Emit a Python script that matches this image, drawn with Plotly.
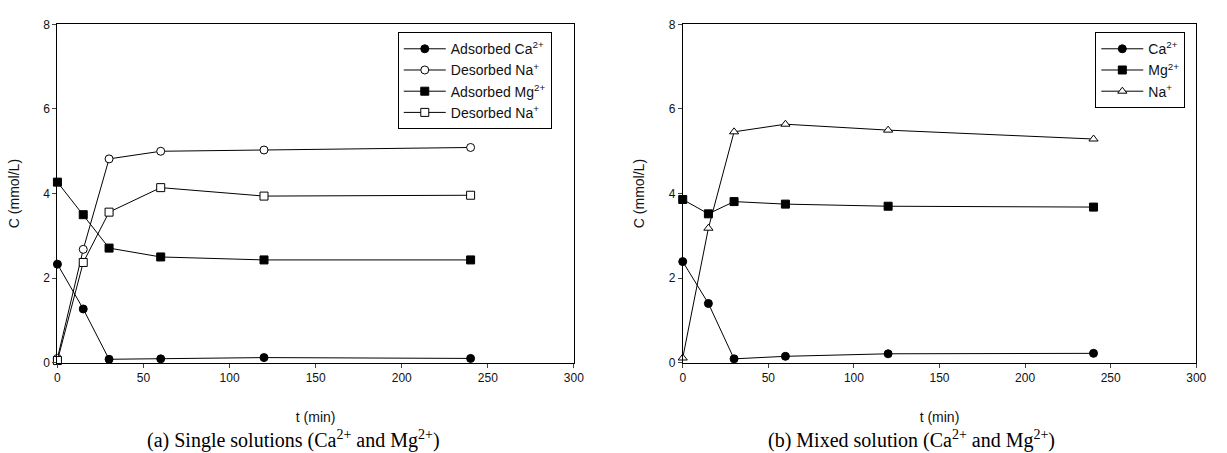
import plotly.graph_objects as go

t = [0, 15, 30, 60, 120, 240]

# (a) single solutions
a_ca_ads = [2.33, 1.27, 0.08, 0.09, 0.12, 0.10]
a_na_des_ca = [0.10, 2.68, 4.82, 5.00, 5.03, 5.09]
a_mg_ads = [4.27, 3.50, 2.71, 2.50, 2.43, 2.43]
a_na_des_mg = [0.05, 2.37, 3.56, 4.14, 3.94, 3.96]

# (b) mixed solution
b_ca = [2.39, 1.40, 0.09, 0.15, 0.21, 0.22]
b_mg = [3.86, 3.52, 3.81, 3.75, 3.70, 3.68]
b_na = [0.11, 3.18, 5.46, 5.64, 5.50, 5.29]

x_ticks = [0, 50, 100, 150, 200, 250, 300]
y_ticks = [0, 2, 4, 6, 8]

fig = go.Figure()

def add(x, y, name, symbol, filled, xa, ya, legend):
    fig.add_trace(go.Scatter(
        x=x, y=y, name=name, mode="lines+markers",
        line=dict(color="black", width=1),
        marker=dict(symbol=symbol, size=8, color="black" if filled else "white",
                    line=dict(color="black", width=1)),
        xaxis=xa, yaxis=ya, legend=legend, cliponaxis=False))

add(t, a_ca_ads, "Adsorbed Ca<sup>2+</sup>", "circle", True, "x", "y", "legend")
add(t, a_na_des_ca, "Desorbed Na<sup>+</sup>", "circle", False, "x", "y", "legend")
add(t, a_mg_ads, "Adsorbed Mg<sup>2+</sup>", "square", True, "x", "y", "legend")
add(t, a_na_des_mg, "Desorbed Na<sup>+</sup>", "square", False, "x", "y", "legend")

add(t, b_ca, "Ca<sup>2+</sup>", "circle", True, "x2", "y2", "legend2")
add(t, b_mg, "Mg<sup>2+</sup>", "square", True, "x2", "y2", "legend2")
add(t, b_na, "Na<sup>+</sup>", "triangle-up", False, "x2", "y2", "legend2")

axis_font = dict(family="Arial, Liberation Sans", size=12, color="#111")
title_font = dict(family="Arial, Liberation Sans", size=14, color="#111")
common_x = dict(range=[0, 300], tickvals=x_ticks, ticks="outside", ticklen=4,
                showline=True, linecolor="black", linewidth=1, mirror=True,
                showgrid=False, zeroline=False, tickfont=axis_font,
                title=dict(text="t (min)", font=title_font, standoff=28))
common_y = dict(range=[0, 8], tickvals=y_ticks, ticks="outside", ticklen=4,
                showline=True, linecolor="black", linewidth=1, mirror=True,
                showgrid=False, zeroline=False, tickfont=axis_font,
                title=dict(text="C (mmol/L)", font=title_font, standoff=20))

ydom = [(453 - 367) / 453, (453 - 18) / 453]
leg_font = dict(family="Arial, Liberation Sans", size=14, color="#111")
fig.update_layout(
    width=1227, height=453,
    margin=dict(l=0, r=0, t=0, b=0),
    paper_bgcolor="white", plot_bgcolor="white",
    xaxis=dict(domain=[55 / 1227, 577 / 1227], anchor="y", **common_x),
    yaxis=dict(domain=ydom, anchor="x", **common_y),
    xaxis2=dict(domain=[687 / 1227, 1206 / 1227], anchor="y2", **common_x),
    yaxis2=dict(domain=ydom, anchor="x2", **common_y),
    legend=dict(x=399 / 1227, y=1 - 26 / 453, xanchor="left", yanchor="top",
                bordercolor="black", borderwidth=1, bgcolor="white",
                font=leg_font, tracegroupgap=0, itemwidth=42),
    legend2=dict(x=1104 / 1227, y=1 - 26 / 453, xanchor="left", yanchor="top",
                 bordercolor="black", borderwidth=1, bgcolor="white",
                 font=leg_font, tracegroupgap=0, itemwidth=42),
    showlegend=True,
)

cap_font = dict(family="Liberation Serif, Times New Roman, serif", size=20, color="black")
fig.add_annotation(text="(a) Single solutions (Ca<sup>2+</sup> and Mg<sup>2+</sup>)",
                   x=294 / 1227, y=1 - 431 / 453, xref="paper", yref="paper",
                   xanchor="center", yanchor="top", showarrow=False, font=cap_font)
fig.add_annotation(text="(b) Mixed solution (Ca<sup>2+</sup> and Mg<sup>2+</sup>)",
                   x=918 / 1227, y=1 - 431 / 453, xref="paper", yref="paper",
                   xanchor="center", yanchor="top", showarrow=False, font=cap_font)

fig.write_html("out.html")
